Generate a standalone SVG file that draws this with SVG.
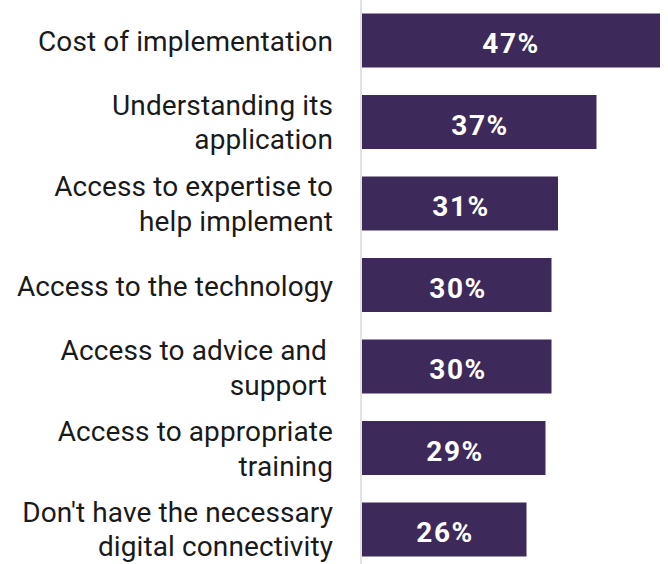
<svg xmlns="http://www.w3.org/2000/svg" width="668" height="564" viewBox="0 0 668 564">
<style>
.bar{fill:#3e2a5a}
.lbl{font-family:Roboto,"Liberation Sans",sans-serif;font-size:28px;letter-spacing:0.1px;fill:#1a1a1a;text-anchor:end}
.val{font-family:Roboto,"Liberation Sans",sans-serif;font-size:28px;font-weight:bold;letter-spacing:1.5px;fill:#ffffff;text-anchor:middle}
.axis{stroke:#d9d9d9;stroke-width:1.5}
</style>
<rect width="668" height="564" fill="#ffffff"/>
<g id="connectors">
<line class="axis" x1="361" y1="0" x2="361" y2="564"/>
</g>
<g id="n1">
<rect class="bar" x="362" y="13.5" width="298" height="54"/>
<text class="lbl" x="333" y="51">Cost of implementation</text>
<text class="val" x="511" y="53">47%</text>
</g>
<g id="n2">
<rect class="bar" x="362" y="95" width="234.5" height="54"/>
<text class="lbl" x="333" y="115">Understanding its</text>
<text class="lbl" x="333" y="149">application</text>
<text class="val" x="480" y="134.5">37%</text>
</g>
<g id="n3">
<rect class="bar" x="362" y="176.5" width="196" height="54"/>
<text class="lbl" x="333" y="196">Access to expertise to</text>
<text class="lbl" x="333" y="230.5">help implement</text>
<text class="val" x="461" y="216">31%</text>
</g>
<g id="n4">
<rect class="bar" x="362" y="258" width="189.5" height="54"/>
<text class="lbl" x="333" y="295.5">Access to the technology</text>
<text class="val" x="458" y="297.5">30%</text>
</g>
<g id="n5">
<rect class="bar" x="362" y="339.5" width="189.5" height="54"/>
<text class="lbl" x="327" y="360">Access to advice and</text>
<text class="lbl" x="327" y="395">support</text>
<text class="val" x="458" y="379">30%</text>
</g>
<g id="n6">
<rect class="bar" x="362" y="421" width="183.5" height="54"/>
<text class="lbl" x="333" y="441">Access to appropriate</text>
<text class="lbl" x="333" y="476">training</text>
<text class="val" x="455" y="460.5">29%</text>
</g>
<g id="n7">
<rect class="bar" x="362" y="502.5" width="164.5" height="54"/>
<text class="lbl" x="333" y="522">Don't have the necessary</text>
<text class="lbl" x="333" y="556">digital connectivity</text>
<text class="val" x="445" y="542">26%</text>
</g>
</svg>
